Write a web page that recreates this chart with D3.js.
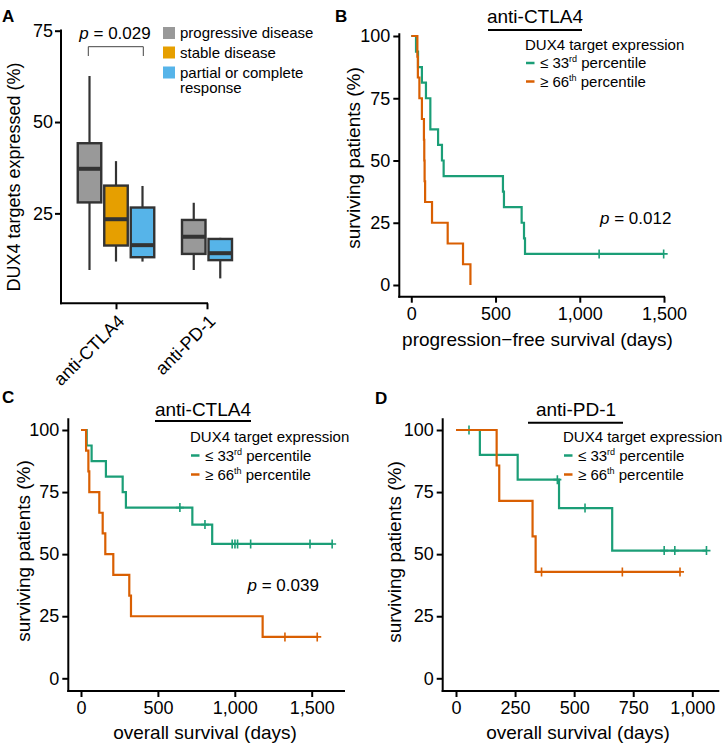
<!DOCTYPE html>
<html lang="en">
<head>
<meta charset="UTF-8">
<title>DUX4 target expression and immunotherapy response</title>
<script src="https://cdn.jsdelivr.net/npm/d3@7"></script>
<style>
  body { margin: 0; background: #fff; }
  svg { display: block; font-family: "Liberation Sans", Arial, Helvetica, sans-serif; }
  .axis line { stroke: #000; stroke-width: 2; }
  .axis text { font-size: 18px; fill: #000; }
</style>
</head>
<body>
<svg id="fig" width="725" height="750"></svg>
<script>
// ---- panel A: box plots ----
const treatments = ["anti-CTLA4", "anti-PD-1"];
const responses = ["progressive disease", "stable disease", "partial or complete response"];
const responseColors = ["#999999", "#E69F00", "#56B4E9"];
const boxTreatment = ["anti-CTLA4", "anti-CTLA4", "anti-CTLA4", "anti-PD-1", "anti-PD-1"];
const boxResponse = ["progressive disease", "stable disease", "partial or complete response",
                     "progressive disease", "partial or complete response"];
const boxMin = [9.5, 11.8, 11.8, 9.5, 7.2];
const boxQ1 = [28.0, 16.2, 13.0, 13.9, 12.2];
const boxMedian = [37.2, 23.4, 16.3, 18.6, 14.1];
const boxQ3 = [44.2, 32.6, 26.6, 23.2, 18.0];
const boxMax = [62.6, 39.3, 32.5, 27.9, 18.3];
const boxTicks = [25, 50, 75];

// ---- panels B-D: Kaplan-Meier step values (day, % surviving) ----
const pfsCtlaLowDays = [0, 28, 40, 63, 87, 113, 159, 182, 192, 544, 550, 655, 669, 675];
const pfsCtlaLowSurv = [100, 93.75, 87.5, 81.25, 75, 62.5, 56.25, 50, 43.75, 37.5, 31.25, 25, 18.75, 12.5];
const pfsCtlaLowCensor = [1115, 1498];
const pfsCtlaHighDays = [0, 36, 39, 48, 63, 75, 77, 79, 82, 123, 216, 307, 351];
const pfsCtlaHighSurv = [100, 91.67, 83.33, 75, 66.67, 58.33, 50, 41.67, 33.33, 25, 16.67, 8.33, 0];
const pfsCtlaHighCensor = [];

const osCtlaLowDays = [0, 37, 69, 162, 271, 292, 724, 853];
const osCtlaLowSurv = [100, 93.75, 87.5, 81.25, 75, 68.75, 61.9, 54.1];
const osCtlaLowCensor = [643, 806, 983, 1001, 1018, 1103, 1489, 1633];
const osCtlaHighDays = [0, 33, 48, 54, 119, 141, 158, 210, 314, 325, 1181];
const osCtlaHighSurv = [100, 91.67, 83.33, 75, 66.67, 58.33, 50, 41.67, 33.33, 25, 16.67];
const osCtlaHighCensor = [1326, 1536];

const osPdLowDays = [0, 101, 261, 436, 661];
const osPdLowSurv = [100, 90, 80, 68.57, 51.43];
const osPdLowCensor = [55, 429, 546, 881, 926, 1060];
const osPdHighDays = [0, 172, 183, 324, 337];
const osPdHighSurv = [100, 85.71, 71.43, 57.14, 42.86];
const osPdHighCensor = [362, 704, 948];

const survTicks = [0, 25, 50, 75, 100];
const groupColors = { low: "#1B9E77", high: "#D95F02" };

const svg = d3.select("#fig");
svg.append("rect").attr("width", 725).attr("height", 750).attr("fill", "#fff");

function panelLetter(t, x, y) {
  svg.append("text").attr("x", x).attr("y", y).attr("font-size", 17)
    .attr("font-weight", "bold").text(t);
}

function pText(x, y, val, anchor) {
  const t = svg.append("text").attr("x", x).attr("y", y).attr("font-size", 17)
    .attr("text-anchor", anchor || "start");
  t.append("tspan").attr("font-style", "italic").text("p");
  t.append("tspan").text(" = " + val);
}

// ================= Panel A =================
panelLetter("A", 2, 22);
const yA = d3.scaleLinear().domain([0, 75]).range([304.7, 30.7]);
const xA = d3.scalePoint().domain(treatments).range([116, 207]);
const fillA = d3.scaleOrdinal().domain(responses).range(responseColors);
const slot = 26.5, boxW = 23.5;

const axA = svg.append("g").attr("class", "axis");
axA.append("g").attr("transform", "translate(61,0)")
  .call(d3.axisLeft(yA).tickValues(boxTicks).tickSize(6).tickPadding(2))
  .call(g => g.select(".domain").remove());
axA.append("g").attr("transform", "translate(0,303.3)")
  .call(d3.axisBottom(xA).tickSize(6))
  .call(g => g.select(".domain").remove())
  .call(g => g.selectAll("text")
    .attr("text-anchor", "end")
    .attr("dy", null).attr("y", null)
    .attr("transform", "translate(9,19) rotate(-45)"));
axA.append("line").attr("x1", 61).attr("x2", 61).attr("y1", 29.5).attr("y2", 304.3);
axA.append("line").attr("x1", 60).attr("x2", 208).attr("y1", 303.3).attr("y2", 303.3);

svg.append("text").attr("transform", "translate(20,177) rotate(-90)")
  .attr("text-anchor", "middle").attr("font-size", 18).text("DUX4 targets expressed (%)");

boxTreatment.forEach((tr, i) => {
  const members = boxResponse.filter((r, j) => boxTreatment[j] === tr);
  const k = members.indexOf(boxResponse[i]);
  const cx = xA(tr) + (k - (members.length - 1) / 2) * slot;
  const g = svg.append("g");
  g.append("line").attr("x1", cx).attr("x2", cx).attr("y1", yA(boxMax[i])).attr("y2", yA(boxMin[i]))
    .attr("stroke", "#333").attr("stroke-width", 2.2);
  g.append("rect").attr("x", cx - boxW / 2).attr("width", boxW)
    .attr("y", yA(boxQ3[i])).attr("height", yA(boxQ1[i]) - yA(boxQ3[i]))
    .attr("fill", fillA(boxResponse[i])).attr("stroke", "#333").attr("stroke-width", 2.4);
  g.append("line").attr("x1", cx - boxW / 2).attr("x2", cx + boxW / 2)
    .attr("y1", yA(boxMedian[i])).attr("y2", yA(boxMedian[i]))
    .attr("stroke", "#333").attr("stroke-width", 4);
});

svg.append("path").attr("d", "M88.3,56V46.7H143.3V56").attr("fill", "none")
  .attr("stroke", "#444").attr("stroke-width", 1);
pText(115, 39, "0.029", "middle");

const legA = [33, 52.5, 72.5];
responses.forEach((r, i) => {
  svg.append("rect").attr("x", 163).attr("y", legA[i] - 6).attr("width", 12).attr("height", 12)
    .attr("fill", fillA(r));
});
svg.append("text").attr("x", 180).attr("y", legA[0] + 5).attr("font-size", 15).text(responses[0]);
svg.append("text").attr("x", 180).attr("y", legA[1] + 5).attr("font-size", 15).text(responses[1]);
svg.append("text").attr("x", 180).attr("y", legA[2] + 5).attr("font-size", 15).text("partial or complete");
svg.append("text").attr("x", 180).attr("y", legA[2] + 20.5).attr("font-size", 15).text("response");

// ================= Kaplan-Meier panels =================
function kmPanel(o) {
  panelLetter(o.letter, o.letterX, o.letterY);
  const x = d3.scaleLinear().domain(o.xDomain).range(o.xRange);
  const y = d3.scaleLinear().domain([0, 100]).range(o.yRange);

  const ax = svg.append("g").attr("class", "axis");
  ax.append("g").attr("transform", `translate(${o.axisX},0)`)
    .call(d3.axisLeft(y).tickValues(survTicks).tickSize(6).tickPadding(3))
    .call(g => g.select(".domain").remove());
  ax.append("g").attr("transform", `translate(0,${o.axisY})`)
    .call(d3.axisBottom(x).tickValues(o.xTicks).tickFormat(d3.format(",")).tickSize(6).tickPadding(4.5))
    .call(g => g.select(".domain").remove());
  ax.append("line").attr("x1", o.axisX).attr("x2", o.axisX).attr("y1", o.axisTop).attr("y2", o.axisY + 1);
  ax.append("line").attr("x1", o.axisX - 1).attr("x2", o.axisRight).attr("y1", o.axisY).attr("y2", o.axisY);

  svg.append("text").attr("transform", `translate(${o.yLabelX},${o.yLabelY}) rotate(-90)`)
    .attr("text-anchor", "middle").attr("font-size", 19).text("surviving patients (%)");
  svg.append("text").attr("x", o.xLabelX).attr("y", o.xLabelY)
    .attr("text-anchor", "middle").attr("font-size", 19).text(o.xLabel);

  svg.append("text").attr("x", o.titleX).attr("y", o.titleY)
    .attr("text-anchor", "middle").attr("font-size", 19).text(o.title);
  svg.append("line").attr("x1", o.ulX[0]).attr("x2", o.ulX[1]).attr("y1", o.ulY).attr("y2", o.ulY)
    .attr("stroke", "#000").attr("stroke-width", 2);

  const line = d3.line().x(d => x(d[0])).y(d => y(d[1])).curve(d3.curveStepAfter);
  o.curves.forEach(c => {
    const pts = c.days.map((d, i) => [d, c.surv[i]]);
    const last = Math.max(c.days[c.days.length - 1], ...(c.censor.length ? c.censor : [0]));
    pts.push([last, c.surv[c.surv.length - 1]]);
    svg.append("path").attr("d", line(pts)).attr("fill", "none")
      .attr("stroke", c.color).attr("stroke-width", 2.2);
    c.censor.forEach(t => {
      let s = c.surv[0];
      c.days.forEach((d, i) => { if (d <= t) s = c.surv[i]; });
      const cx = x(t), cy = y(s);
      svg.append("path").attr("d", `M${cx - 4},${cy}H${cx + 4}M${cx},${cy - 4.5}V${cy + 4.5}`)
        .attr("stroke", c.color).attr("stroke-width", 1.6);
    });
  });

  // legend
  const lx = o.legendX;
  svg.append("text").attr("x", lx).attr("y", o.legendY[0] + 5).attr("font-size", 15)
    .text("DUX4 target expression");
  const rows = [["\u2264 33", "rd", groupColors.low], ["\u2265 66", "th", groupColors.high]];
  rows.forEach((r, i) => {
    const cy = o.legendY[i + 1];
    svg.append("line").attr("x1", lx + 1).attr("x2", lx + 9.5).attr("y1", cy).attr("y2", cy)
      .attr("stroke", r[2]).attr("stroke-width", 2.5);
    const t = svg.append("text").attr("x", lx + 15).attr("y", cy + 5).attr("font-size", 15);
    t.append("tspan").text(r[0]);
    t.append("tspan").attr("font-size", 9).attr("dy", -6).text(r[1]);
    t.append("tspan").attr("dy", 6).text(" percentile");
  });

  if (o.p) pText(o.pX, o.pY, o.p);
}

kmPanel({
  letter: "B", letterX: 335, letterY: 22,
  xDomain: [0, 1500], xRange: [411.3, 664], yRange: [285, 36], xTicks: [0, 500, 1000, 1500],
  axisX: 399.3, axisY: 296.7, axisTop: 33.3, axisRight: 665,
  yLabelX: 360, yLabelY: 158, xLabelX: 537.5, xLabelY: 346,
  xLabel: "progression\u2212free survival (days)",
  title: "anti-CTLA4", titleX: 535, titleY: 23, ulX: [488, 582], ulY: 30,
  legendX: 525, legendY: [44.7, 63, 81.5],
  p: "0.012", pX: 600, pY: 224,
  curves: [
    { days: pfsCtlaLowDays, surv: pfsCtlaLowSurv, censor: pfsCtlaLowCensor, color: groupColors.low },
    { days: pfsCtlaHighDays, surv: pfsCtlaHighSurv, censor: pfsCtlaHighCensor, color: groupColors.high }
  ]
});

kmPanel({
  letter: "C", letterX: 2, letterY: 403,
  xDomain: [0, 1500], xRange: [81, 311.7], yRange: [678.3, 430], xTicks: [0, 500, 1000, 1500],
  axisX: 68.3, axisY: 691, axisTop: 418.3, axisRight: 345,
  yLabelX: 30, yLabelY: 551, xLabelX: 205, xLabelY: 739,
  xLabel: "overall survival (days)",
  title: "anti-CTLA4", titleX: 203, titleY: 416, ulX: [155, 251], ulY: 421,
  legendX: 190, legendY: [437, 455.5, 474.5],
  p: "0.039", pX: 247.5, pY: 591,
  curves: [
    { days: osCtlaLowDays, surv: osCtlaLowSurv, censor: osCtlaLowCensor, color: groupColors.low },
    { days: osCtlaHighDays, surv: osCtlaHighSurv, censor: osCtlaHighCensor, color: groupColors.high }
  ]
});

kmPanel({
  letter: "D", letterX: 375, letterY: 404,
  xDomain: [0, 1000], xRange: [456, 692.3], yRange: [678.3, 430], xTicks: [0, 250, 500, 750, 1000],
  axisX: 442.7, axisY: 691, axisTop: 418.3, axisRight: 719.3,
  yLabelX: 401, yLabelY: 552, xLabelX: 578, xLabelY: 739,
  xLabel: "overall survival (days)",
  title: "anti-PD-1", titleX: 576, titleY: 416, ulX: [528, 623], ulY: 422.7,
  legendX: 563, legendY: [437, 455.5, 474.5],
  p: null,
  curves: [
    { days: osPdLowDays, surv: osPdLowSurv, censor: osPdLowCensor, color: groupColors.low },
    { days: osPdHighDays, surv: osPdHighSurv, censor: osPdHighCensor, color: groupColors.high }
  ]
});
</script>
</body>
</html>
